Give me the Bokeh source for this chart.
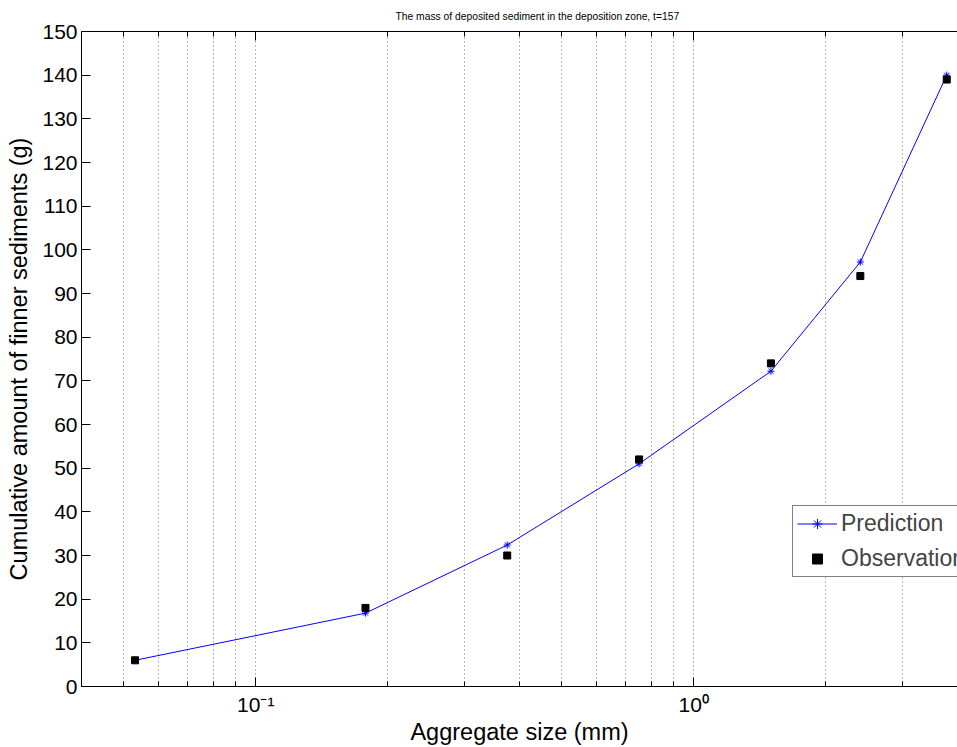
from bokeh.plotting import figure
from bokeh.models import (Range1d, FixedTicker, LogAxis, Title, Legend, LegendItem,
                          CustomJSTickFormatter, ColumnDataSource)
from bokeh.embed import file_html
from bokeh.resources import INLINE

# ---- data ----
size_mm = [0.053, 0.178, 0.375, 0.75, 1.5, 2.4, 3.78]
prediction = [6.0, 16.8, 32.4, 51.0, 72.2, 97.2, 140.0]
observation = [6.0, 18.0, 30.0, 52.0, 74.0, 94.0, 139.0]

y_ticks = list(range(0, 151, 10))
x_major = [0.1, 1.0]
x_minor = [0.04, 0.05, 0.06, 0.07, 0.08, 0.09,
           0.2, 0.3, 0.4, 0.5, 0.6, 0.7, 0.8, 0.9,
           2.0, 3.0]

title_text = "The mass of deposited sediment in the deposition zone, t=157"
x_label = "Aggregate size (mm)"
y_label = "Cumulative amount of finner sediments (g)"
legend_labels = ["Prediction", "Observation"]

FONT = "Liberation Sans"

src = ColumnDataSource(dict(x=size_mm, pred=prediction, obs=observation))

p = figure(width=957, height=747, x_axis_type="log",
           x_range=Range1d(0.04, 4.0), y_range=Range1d(0, 150),
           output_backend="svg", toolbar_location=None, title=None,
           min_border_left=81, min_border_right=0,
           min_border_top=31, min_border_bottom=61)
p.outline_line_color = None
p.background_fill_color = "white"
p.border_fill_color = "white"

ticker = FixedTicker(ticks=x_major, minor_ticks=x_minor)
sup_code = """
const sup = {'-':'\u207b','0':'\u2070','1':'\u00b9','2':'\u00b2','3':'\u00b3',
             '4':'\u2074','5':'\u2075','6':'\u2076','7':'\u2077','8':'\u2078','9':'\u2079'};
const e = Math.round(Math.log10(tick));
return '10' + String(e).split('').map(c => sup[c]).join('');
"""

xa = p.xaxis[0]
xa.ticker = ticker
xa.formatter = CustomJSTickFormatter(code=sup_code)
xa.axis_label = x_label

ya = p.yaxis[0]
ya.ticker = FixedTicker(ticks=y_ticks)
ya.axis_label = y_label

for ax in (xa, ya):
    ax.major_tick_in = 9
    ax.major_tick_out = 0
    ax.minor_tick_in = 5
    ax.minor_tick_out = 0
    ax.axis_line_color = "black"
    ax.major_tick_line_color = "black"
    ax.minor_tick_line_color = "black"
    ax.major_label_text_font = FONT
    ax.major_label_text_font_size = "21px"
    ax.major_label_text_color = "black"
    ax.axis_label_text_font = FONT
    ax.axis_label_text_font_size = "23.5px"
    ax.axis_label_text_font_style = "normal"
    ax.axis_label_text_color = "black"
xa.major_label_standoff = 6
xa.axis_label_standoff = 0
ya.major_label_standoff = 4
ya.axis_label_standoff = 7

top = LogAxis(ticker=ticker, formatter=CustomJSTickFormatter(code="return '';"),
              major_tick_in=9, major_tick_out=0, minor_tick_in=5, minor_tick_out=0,
              major_label_text_font_size="1px", major_label_standoff=0,
              axis_line_color="black")
p.add_layout(top, "above")
p.add_layout(Title(text=title_text, align="left", vertical_align="middle",
                   text_font=FONT, text_font_size="10.3px", text_font_style="normal",
                   text_color="black", offset=314, standoff=18), "above")

p.xgrid.ticker = ticker
p.xgrid.grid_line_color = "#707070"
p.xgrid.grid_line_dash = "1 3"
p.xgrid.minor_grid_line_color = "#707070"
p.xgrid.minor_grid_line_dash = "1 3"
p.ygrid.visible = False

r_line = p.line("x", "pred", source=src, line_color="#0000ff", line_width=1)
r_star = p.scatter("x", "pred", source=src, marker="asterisk", size=7,
                   line_color="#0000ff", line_width=1)
r_obs = p.scatter("x", "obs", source=src, marker="square", size=7,
                  fill_color="black", line_color="black")

legend = Legend(items=[LegendItem(label=legend_labels[0], renderers=[r_line, r_star]),
                       LegendItem(label=legend_labels[1], renderers=[r_obs])],
                location=(711, 109), margin=0, padding=4, spacing=8,
                label_height=25, glyph_height=25, glyph_width=40, label_standoff=4,
                label_text_font=FONT, label_text_font_size="23px",
                border_line_color="black", border_line_width=1,
                background_fill_color="white", background_fill_alpha=1.0)
p.add_layout(legend, "center")

open("out.html", "w").write(file_html(p, INLINE))
